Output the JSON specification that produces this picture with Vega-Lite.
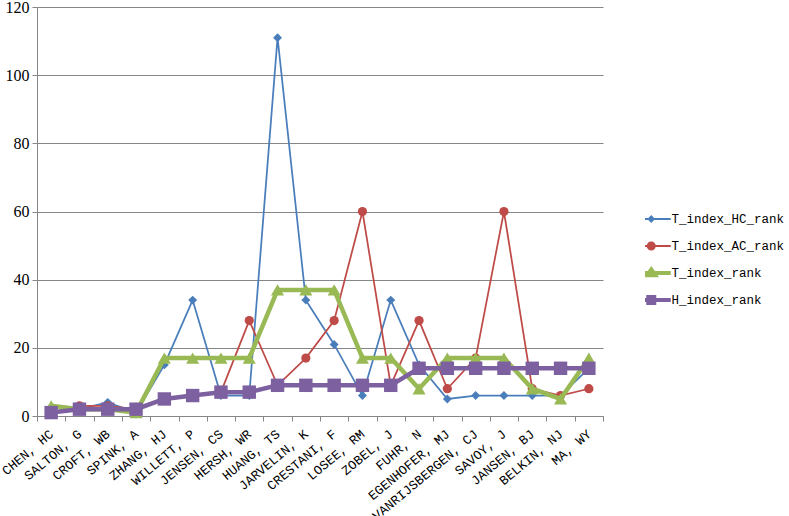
{
  "$schema": "https://vega.github.io/schema/vega-lite/v6.json",
  "width": 566,
  "height": 409,
  "autosize": {"type": "none"},
  "padding": {"left": 37, "top": 7, "right": 186, "bottom": 100},
  "background": "white",
  "config": {
    "view": {"stroke": null},
    "font": "Liberation Mono"
  },
  "datasets": {
    "ranks": [
      {"name": "CHEN, HC", "series": "T_index_HC_rank", "value": 1},
      {"name": "SALTON, G", "series": "T_index_HC_rank", "value": 2},
      {"name": "CROFT, WB", "series": "T_index_HC_rank", "value": 4},
      {"name": "SPINK, A", "series": "T_index_HC_rank", "value": 1},
      {"name": "ZHANG, HJ", "series": "T_index_HC_rank", "value": 15},
      {"name": "WILLETT, P", "series": "T_index_HC_rank", "value": 34},
      {"name": "JENSEN, CS", "series": "T_index_HC_rank", "value": 6},
      {"name": "HERSH, WR", "series": "T_index_HC_rank", "value": 6},
      {"name": "HUANG, TS", "series": "T_index_HC_rank", "value": 111},
      {"name": "JARVELIN, K", "series": "T_index_HC_rank", "value": 34},
      {"name": "CRESTANI, F", "series": "T_index_HC_rank", "value": 21},
      {"name": "LOSEE, RM", "series": "T_index_HC_rank", "value": 6},
      {"name": "ZOBEL, J", "series": "T_index_HC_rank", "value": 34},
      {"name": "FUHR, N", "series": "T_index_HC_rank", "value": 15},
      {"name": "EGENHOFER, MJ", "series": "T_index_HC_rank", "value": 5},
      {"name": "VANRIJSBERGEN, CJ", "series": "T_index_HC_rank", "value": 6},
      {"name": "SAVOY, J", "series": "T_index_HC_rank", "value": 6},
      {"name": "JANSEN, BJ", "series": "T_index_HC_rank", "value": 6},
      {"name": "BELKIN, NJ", "series": "T_index_HC_rank", "value": 6},
      {"name": "MA, WY", "series": "T_index_HC_rank", "value": 14},
      {"name": "CHEN, HC", "series": "T_index_AC_rank", "value": 1},
      {"name": "SALTON, G", "series": "T_index_AC_rank", "value": 3},
      {"name": "CROFT, WB", "series": "T_index_AC_rank", "value": 3},
      {"name": "SPINK, A", "series": "T_index_AC_rank", "value": 2},
      {"name": "ZHANG, HJ", "series": "T_index_AC_rank", "value": 5},
      {"name": "WILLETT, P", "series": "T_index_AC_rank", "value": 6},
      {"name": "JENSEN, CS", "series": "T_index_AC_rank", "value": 7},
      {"name": "HERSH, WR", "series": "T_index_AC_rank", "value": 28},
      {"name": "HUANG, TS", "series": "T_index_AC_rank", "value": 9},
      {"name": "JARVELIN, K", "series": "T_index_AC_rank", "value": 17},
      {"name": "CRESTANI, F", "series": "T_index_AC_rank", "value": 28},
      {"name": "LOSEE, RM", "series": "T_index_AC_rank", "value": 60},
      {"name": "ZOBEL, J", "series": "T_index_AC_rank", "value": 9},
      {"name": "FUHR, N", "series": "T_index_AC_rank", "value": 28},
      {"name": "EGENHOFER, MJ", "series": "T_index_AC_rank", "value": 8},
      {"name": "VANRIJSBERGEN, CJ", "series": "T_index_AC_rank", "value": 17},
      {"name": "SAVOY, J", "series": "T_index_AC_rank", "value": 60},
      {"name": "JANSEN, BJ", "series": "T_index_AC_rank", "value": 8},
      {"name": "BELKIN, NJ", "series": "T_index_AC_rank", "value": 6},
      {"name": "MA, WY", "series": "T_index_AC_rank", "value": 8},
      {"name": "CHEN, HC", "series": "T_index_rank", "value": 3},
      {"name": "SALTON, G", "series": "T_index_rank", "value": 2},
      {"name": "CROFT, WB", "series": "T_index_rank", "value": 2},
      {"name": "SPINK, A", "series": "T_index_rank", "value": 1},
      {"name": "ZHANG, HJ", "series": "T_index_rank", "value": 17},
      {"name": "WILLETT, P", "series": "T_index_rank", "value": 17},
      {"name": "JENSEN, CS", "series": "T_index_rank", "value": 17},
      {"name": "HERSH, WR", "series": "T_index_rank", "value": 17},
      {"name": "HUANG, TS", "series": "T_index_rank", "value": 37},
      {"name": "JARVELIN, K", "series": "T_index_rank", "value": 37},
      {"name": "CRESTANI, F", "series": "T_index_rank", "value": 37},
      {"name": "LOSEE, RM", "series": "T_index_rank", "value": 17},
      {"name": "ZOBEL, J", "series": "T_index_rank", "value": 17},
      {"name": "FUHR, N", "series": "T_index_rank", "value": 8},
      {"name": "EGENHOFER, MJ", "series": "T_index_rank", "value": 17},
      {"name": "VANRIJSBERGEN, CJ", "series": "T_index_rank", "value": 17},
      {"name": "SAVOY, J", "series": "T_index_rank", "value": 17},
      {"name": "JANSEN, BJ", "series": "T_index_rank", "value": 8},
      {"name": "BELKIN, NJ", "series": "T_index_rank", "value": 5},
      {"name": "MA, WY", "series": "T_index_rank", "value": 17},
      {"name": "CHEN, HC", "series": "H_index_rank", "value": 1},
      {"name": "SALTON, G", "series": "H_index_rank", "value": 2},
      {"name": "CROFT, WB", "series": "H_index_rank", "value": 2},
      {"name": "SPINK, A", "series": "H_index_rank", "value": 2},
      {"name": "ZHANG, HJ", "series": "H_index_rank", "value": 5},
      {"name": "WILLETT, P", "series": "H_index_rank", "value": 6},
      {"name": "JENSEN, CS", "series": "H_index_rank", "value": 7},
      {"name": "HERSH, WR", "series": "H_index_rank", "value": 7},
      {"name": "HUANG, TS", "series": "H_index_rank", "value": 9},
      {"name": "JARVELIN, K", "series": "H_index_rank", "value": 9},
      {"name": "CRESTANI, F", "series": "H_index_rank", "value": 9},
      {"name": "LOSEE, RM", "series": "H_index_rank", "value": 9},
      {"name": "ZOBEL, J", "series": "H_index_rank", "value": 9},
      {"name": "FUHR, N", "series": "H_index_rank", "value": 14},
      {"name": "EGENHOFER, MJ", "series": "H_index_rank", "value": 14},
      {"name": "VANRIJSBERGEN, CJ", "series": "H_index_rank", "value": 14},
      {"name": "SAVOY, J", "series": "H_index_rank", "value": 14},
      {"name": "JANSEN, BJ", "series": "H_index_rank", "value": 14},
      {"name": "BELKIN, NJ", "series": "H_index_rank", "value": 14},
      {"name": "MA, WY", "series": "H_index_rank", "value": 14}
    ]
  },
  "data": {"name": "ranks"},
  "encoding": {
    "x": {
      "field": "name",
      "type": "nominal",
      "sort": null,
      "scale": {"type": "band", "paddingInner": 0, "paddingOuter": 0},
      "axis": {
        "title": null,
        "tickBand": "extent",
        "labelAngle": -40,
        "labelAlign": "right",
        "labelBaseline": "middle",
        "labelPadding": 11,
        "labelFont": "Liberation Mono",
        "labelFontSize": 13,
        "labelColor": "#000000",
        "labelOverlap": false,
        "tickColor": "#868686",
        "tickSize": 5,
        "domainColor": "#868686",
        "grid": false
      }
    },
    "y": {
      "field": "value",
      "type": "quantitative",
      "scale": {"domain": [0, 120], "nice": false, "zero": true},
      "axis": {
        "title": null,
        "values": [0, 20, 40, 60, 80, 100, 120],
        "labelFont": "Liberation Serif",
        "labelFontSize": 16,
        "labelColor": "#000000",
        "labelPadding": 3,
        "tickColor": "#868686",
        "tickSize": 5,
        "domainColor": "#868686",
        "gridColor": "#868686",
        "gridWidth": 1
      }
    },
    "color": {
      "field": "series",
      "type": "nominal",
      "scale": {
        "domain": ["T_index_HC_rank", "T_index_AC_rank", "T_index_rank", "H_index_rank"],
        "range": ["#4A7EBB", "#BE4B48", "#98B954", "#7D60A0"]
      },
      "legend": {
        "title": null,
        "orient": "none",
        "legendX": 608,
        "legendY": 205,
        "padding": 0,
        "symbolSize": 100,
        "symbolType": "circle",
        "labelFont": "Liberation Mono",
        "labelFontSize": 12.5,
        "labelColor": "#000000",
        "labelOffset": 14,
        "clipHeight": 14,
        "rowPadding": 13,
        "encode": {
          "symbols": {
            "update": {
              "shape": {"signal": "datum.value === 'T_index_HC_rank' ? 'M-3.9,0H3.9M0,-0.5L0.5,0L0,0.5L-0.5,0Z' : datum.value === 'T_index_AC_rank' ? 'M-3.9,0H3.9M-0.7,0A0.7,0.7 0 1,0 0.7,0A0.7,0.7 0 1,0 -0.7,0Z' : datum.value === 'T_index_rank' ? 'M-3.9,0H3.9M0,-0.7L0.8,0.45L-0.8,0.45Z' : 'M-3.9,0H3.9M-0.6,-0.6H0.6V0.6H-0.6Z'"},
              "strokeWidth": {"signal": "(datum.value === 'T_index_rank' || datum.value === 'H_index_rank') ? 4 : 2"},
              "fill": {"signal": "scale('color', datum.value)"},
              "stroke": {"signal": "scale('color', datum.value)"},
              "opacity": {"value": 1},
              "fillOpacity": {"value": 1},
              "strokeOpacity": {"value": 1}
            }
          }
        }
      }
    }
  },
  "layer": [
    {
      "transform": [{"filter": "datum.series === 'T_index_HC_rank'"}],
      "mark": {"type": "line", "strokeWidth": 1.75, "point": {"shape": "diamond", "size": 80, "filled": true, "opacity": 1}}
    },
    {
      "transform": [{"filter": "datum.series === 'T_index_AC_rank'"}],
      "mark": {"type": "line", "strokeWidth": 1.75, "point": {"shape": "circle", "size": 85, "filled": true, "opacity": 1}}
    },
    {
      "transform": [{"filter": "datum.series === 'T_index_rank'"}],
      "mark": {"type": "line", "strokeWidth": 4.5, "point": {"shape": "triangle-up", "size": 170, "filled": true, "opacity": 1}}
    },
    {
      "transform": [{"filter": "datum.series === 'H_index_rank'"}],
      "mark": {"type": "line", "strokeWidth": 4.5, "point": {"shape": "square", "size": 180, "filled": true, "opacity": 1}}
    }
  ]
}
